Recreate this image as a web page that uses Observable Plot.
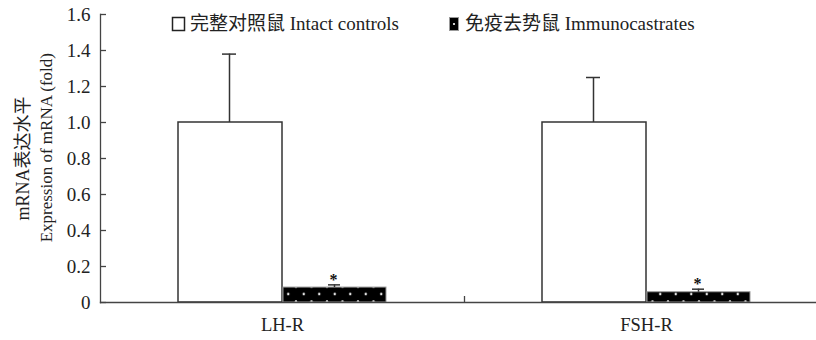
<!DOCTYPE html>
<html>
<head>
<meta charset="utf-8">
<script src="https://cdn.jsdelivr.net/npm/d3@7"></script>
<script src="https://cdn.jsdelivr.net/npm/@observablehq/plot@0.6"></script>
<style>
  html, body { margin: 0; padding: 0; background: #fff; }
  #chart svg { display: block; }
</style>
</head>
<body>
<div id="chart"></div>
<script>
const categories = ["LH-R", "FSH-R"];
const groups = ["完整对照鼠 Intact controls", "免疫去势鼠 Immunocastrates"];
const intactMean = [1.0, 1.0];
const intactSD = [0.38, 0.25];
const immunoMean = [0.083, 0.057];
const immunoSD = [0.015, 0.017];
const yTicks = [0, 0.2, 0.4, 0.6, 0.8, 1.0, 1.2, 1.4, 1.6];
const yLabelLines = ["mRNA表达水平", "Expression of mRNA (fold)"];
const sigMark = "*";

const FONT = "'Liberation Serif', 'Noto Sans CJK SC', serif";

const intact = categories.map((c, i) => ({cat: c, v: intactMean[i], hi: intactMean[i] + intactSD[i]}));
const immuno = categories.map((c, i) => ({cat: c, v: immunoMean[i], hi: immunoMean[i] + immunoSD[i]}));

const W = 816, H = 340;
const chart = Plot.plot({
  width: W,
  height: H,
  marginLeft: 100,
  marginRight: 0,
  marginTop: 14,
  marginBottom: 38,
  style: {fontFamily: FONT, fontSize: "16px", color: "#222", background: "#fff"},
  x: {domain: categories, range: [100, 828], padding: 0, label: null},
  y: {domain: [0, 1.6], label: null},
  marks: [
    // white bars
    Plot.barY(intact, {x: "cat", y: "v", fill: "white", stroke: "#333", strokeWidth: 1.5, insetLeft: 78, insetRight: 182}),
    // patterned bars
    Plot.barY(immuno, {x: "cat", y: "v", fill: "url(#dots)", stroke: "#999", strokeWidth: 1, insetLeft: 183, insetRight: 78}),
    // error stems
    Plot.ruleX(intact, {x: "cat", y1: "v", y2: "hi", dx: -53, stroke: "#333", strokeWidth: 1.5}),
    Plot.ruleX(immuno, {x: "cat", y1: "v", y2: "hi", dx: 52, stroke: "#333", strokeWidth: 1.5}),
    // error caps
    Plot.tickY(intact, {x: "cat", y: "hi", insetLeft: 122, insetRight: 228, stroke: "#333", strokeWidth: 1.5}),
    Plot.tickY(immuno, {x: "cat", y: "hi", insetLeft: 228, insetRight: 124, stroke: "#333", strokeWidth: 1.5}),
    // significance stars
    Plot.text(immuno, {x: "cat", y: "hi", text: () => sigMark, dx: 51, dy: 0, lineAnchor: "bottom", fontSize: 16, fontWeight: "bold", fill: "#111"}),
    // axes lines
    Plot.frame({anchor: "left", stroke: "#444", strokeWidth: 1.3}),
    Plot.frame({anchor: "bottom", stroke: "#444", strokeWidth: 1.3}),
    // y axis labels
    Plot.axisY(yTicks, {tickSize: 0, tickPadding: 10, tickFormat: d => d === 0 ? "0" : d.toFixed(1), fontSize: 19, fill: "#222", fontFamily: FONT}),
    // inward y ticks
    Plot.tickY(yTicks, {y: d => d, insetRight: W - 100 - 6, stroke: "#444", strokeWidth: 1.3}),
    // x axis labels
    Plot.axisX({tickSize: 0, tickPadding: 15, fontSize: 18.5, fill: "#222", fontFamily: FONT}),
    // separator tick between categories
    Plot.tickX([categories[1]], {x: d => d, dx: -182, insetTop: H - 14 - 38 - 6, stroke: "#444", strokeWidth: 1.3}),
    // y label lines
    Plot.text([yLabelLines[0]], {frameAnchor: "left", y: () => 0.8, text: d => d, rotate: -90, textAnchor: "middle", dx: -77, fontSize: 18, fill: "#222", fontFamily: FONT}),
    Plot.text([yLabelLines[1]], {frameAnchor: "left", y: () => 0.86, text: d => d, rotate: -90, textAnchor: "middle", dx: -54, fontSize: 17, fill: "#222", fontFamily: FONT})
  ]
});

const svg = d3.select(chart);
const defs = svg.insert("defs", ":first-child");
const pat = defs.append("pattern")
  .attr("id", "dots")
  .attr("patternUnits", "userSpaceOnUse")
  .attr("x", 280.5).attr("y", 290.25)
  .attr("width", 15.5).attr("height", 15);
pat.append("rect").attr("width", 15.5).attr("height", 15).attr("fill", "#000");
[[7.75, 3.75], [0, 11.25], [15.5, 11.25]].forEach(([cx, cy]) =>
  pat.append("circle").attr("cx", cx).attr("cy", cy).attr("r", 1.2).attr("fill", "#fff"));

// legend
const lg = svg.append("g").attr("font-family", FONT).attr("font-size", 19).attr("fill", "#222").attr("text-anchor", "start");
lg.append("rect").attr("x", 172.5).attr("y", 17.5).attr("width", 12).attr("height", 13)
  .attr("fill", "white").attr("stroke", "#222").attr("stroke-width", 1.5);
lg.append("text").attr("x", 190).attr("y", 30).text(groups[0]);
lg.append("rect").attr("x", 449.5).attr("y", 17.5).attr("width", 9).attr("height", 13)
  .attr("fill", "#000").attr("stroke", "#999").attr("stroke-width", 1);
lg.append("circle").attr("cx", 454).attr("cy", 24).attr("r", 1.1).attr("fill", "#fff");
lg.append("text").attr("x", 465).attr("y", 30).text(groups[1]);

document.getElementById("chart").appendChild(chart);
</script>
</body>
</html>
